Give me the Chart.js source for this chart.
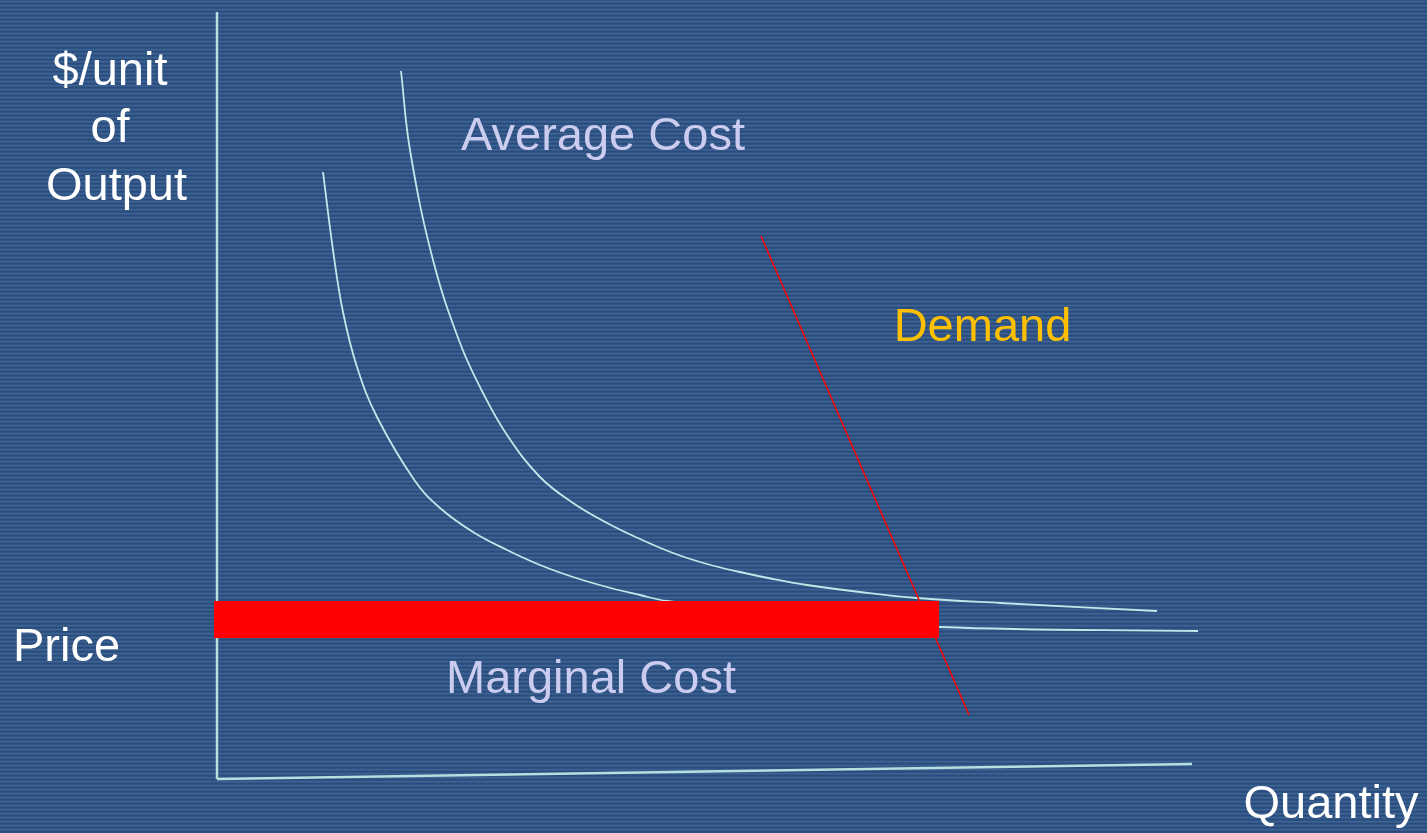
<!DOCTYPE html>
<html>
<head>
<meta charset="utf-8">
<title>Average Cost, Marginal Cost and Demand</title>
<script src="https://cdn.jsdelivr.net/npm/chart.js@4/dist/chart.umd.min.js"></script>
<style>
  html, body { margin: 0; padding: 0; }
  body {
    width: 1427px;
    height: 833px;
    overflow: hidden;
    /* striped slide background */
    background: repeating-linear-gradient(to bottom,
      #2e5281 0px, #2e5281 1px,
      #3b6494 1px, #3b6494 2px,
      #34598a 2px, #34598a 3px,
      #2b4c7b 3px, #2b4c7b 4px);
  }
  #wrap { position: relative; width: 1427px; height: 833px; }
</style>
</head>
<body>
<div id="wrap"><canvas id="costChart"></canvas></div>
<script>
// quantity on x, $/unit of output on y

// average cost curve
var avgCostQty   = [18.4, 19.3, 21.6, 24.3, 26.5, 29.0, 32.3, 35.6, 39.0, 42.3, 45.6, 49.0, 52.3, 55.6, 59.0, 64.3, 70.0, 78.3, 94.0];
var avgCostPrice = [70.8, 62.9, 51.9, 43.6, 38.8, 34.4, 30.2, 27.6, 25.6, 24.0, 22.6, 21.5, 20.7, 20.0, 19.4, 18.7, 18.1, 17.6, 16.8];

// marginal cost curve
var margCostQty   = [10.6, 11.6, 12.6, 14.0, 16.0, 19.8, 22.3, 25.6, 29.0, 32.3, 35.6, 39.0, 42.3, 45.0, 58.3, 72.3, 98.1];
var margCostPrice = [60.7, 52.9, 46.7, 41.2, 36.2, 29.8, 27.1, 24.7, 22.9, 21.4, 20.2, 19.2, 18.4, 17.8, 16.3, 15.2, 14.8];

// demand line
var demandQty   = [54.4, 75.2];
var demandPrice = [54.3, 6.4];

// price level bar
var priceQty   = [-0.3, 72.2];
var priceLevel = [15.95, 15.95];

// axes
var yAxisQty = [0, 0];
var yAxisVal = [0, 76.7];
var xAxisQty = [0, 97.5];
var xAxisVal = [0, 1.5];

// labels: text, quantity, price (baseline)
var labelText  = ['$/unit', 'of', 'Output', 'Average Cost', 'Demand', 'Price', 'Marginal Cost', 'Quantity'];
var labelQty   = [-10.7, -10.7, -10.05, 38.6, 76.55, -15.05, 37.4, 111.4];
var labelPrice = [69.4, 63.7, 57.9, 62.9, 43.8, 11.8, 8.6, -3.9];
var labelColor = ['#ffffff', '#ffffff', '#ffffff', '#ccccf0', '#ffc000', '#ffffff', '#ccccf0', '#ffffff'];

function toPoints(xs, ys) {
  var pts = [];
  for (var i = 0; i < xs.length; i++) {
    pts.push({ x: xs[i], y: ys[i] });
  }
  return pts;
}

var lineColor = '#bfe8e8';

// draws the axis titles and curve names
var textPlugin = {
  id: 'curveLabels',
  afterDatasetsDraw: function (chart) {
    var ctx = chart.ctx;
    var xs = chart.scales.x;
    var ys = chart.scales.y;
    ctx.save();
    ctx.font = '47px "Liberation Sans", Arial, sans-serif';
    ctx.textAlign = 'center';
    ctx.textBaseline = 'alphabetic';
    for (var i = 0; i < labelText.length; i++) {
      ctx.fillStyle = labelColor[i];
      ctx.fillText(labelText[i], xs.getPixelForValue(labelQty[i]), ys.getPixelForValue(labelPrice[i]));
    }
    ctx.restore();
  }
};

const ctx = document.getElementById('costChart');
const costChart = new Chart(ctx, {
  type: 'scatter',
  data: {
    datasets: [
      {
        label: 'Price',
        data: toPoints(priceQty, priceLevel),
        showLine: true,
        borderColor: '#ff0000',
        borderWidth: 37,
        borderCapStyle: 'butt',
        pointRadius: 0,
        order: 0
      },
      {
        label: 'Demand',
        data: toPoints(demandQty, demandPrice),
        showLine: true,
        borderColor: '#ff0000',
        borderWidth: 1.5,
        pointRadius: 0,
        order: 1
      },
      {
        label: 'Average Cost',
        data: toPoints(avgCostQty, avgCostPrice),
        showLine: true,
        borderColor: lineColor,
        borderWidth: 1.8,
        tension: 0.4,
        pointRadius: 0,
        order: 2
      },
      {
        label: 'Marginal Cost',
        data: toPoints(margCostQty, margCostPrice),
        showLine: true,
        borderColor: lineColor,
        borderWidth: 1.8,
        tension: 0.4,
        pointRadius: 0,
        order: 2
      },
      {
        label: 'y axis',
        data: toPoints(yAxisQty, yAxisVal),
        showLine: true,
        borderColor: '#b4e0e0',
        borderWidth: 2.5,
        pointRadius: 0,
        order: 3
      },
      {
        label: 'x axis',
        data: toPoints(xAxisQty, xAxisVal),
        showLine: true,
        borderColor: '#b4e0e0',
        borderWidth: 2.5,
        pointRadius: 0,
        order: 3
      }
    ]
  },
  options: {
    responsive: true,
    maintainAspectRatio: false,
    animation: false,
    layout: { padding: 0 },
    scales: {
      x: { type: 'linear', min: -21.7, max: 121.0, display: false },
      y: { type: 'linear', min: -5.4, max: 77.9, display: false }
    },
    plugins: {
      legend: { display: false },
      tooltip: { enabled: false }
    }
  },
  plugins: [textPlugin]
});
</script>
</body>
</html>
